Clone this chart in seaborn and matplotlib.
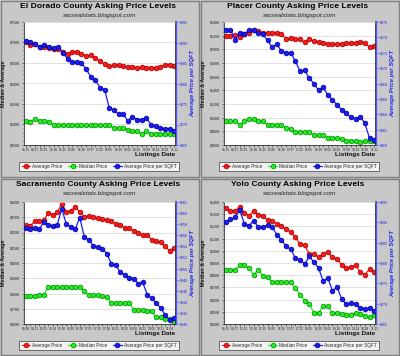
import matplotlib
matplotlib.use("Agg")
import numpy as np
import matplotlib.pyplot as plt
import seaborn as sns
from matplotlib.lines import Line2D
from matplotlib.patches import Rectangle
from matplotlib.ticker import AutoMinorLocator

# ---------------- data ----------------
std_dates = ["04.15", "04.27", "05.12", "05.16", "05.25", "06.06", "06.26", "07.07", "07.22",
             "08.05", "08.19", "09.02", "09.16", "09.30", "10.14", "10.28", "11.11"]
sac_dates = ["04.08", "04.21", "05.05", "05.14", "05.26", "06.09", "06.20", "07.01", "07.15",
             "07.28", "08.11", "08.25", "09.08", "09.22", "10.06", "10.21", "11.04"]

eldorado_avg = [701, 695, 696, 689, 690, 687, 683, 685, 677, 673, 677, 677, 673, 666, 669, 663, 654,
                648, 642, 644, 645, 642, 640, 640, 639, 640, 639, 639, 637, 640, 646, 646, 642]
eldorado_median = [509, 507, 514, 509, 509, 507, 498, 498, 498, 498, 498, 498, 498, 498, 498, 498, 498,
                   498, 498, 492, 492, 492, 487, 483, 483, 478, 483, 478, 478, 478, 478, 478, 478]
eldorado_sqft = [290.4, 290.2, 289.6, 288.9, 289.4, 289.0, 288.6, 288.9, 287.5, 286.0, 285.2, 285.2,
                 285.0, 283.5, 281.7, 280.8, 279.0, 278.5, 274.0, 273.5, 272.5, 272.5, 270.9, 271.9,
                 271.2, 271.2, 271.6, 270.0, 269.6, 269.1, 269.0, 269.0, 268.4]

placer_avg = [619.5, 619.5, 620.5, 618, 623, 624, 628, 627, 624.4, 624, 624, 624.4, 622, 615.6, 616.6,
              615.6, 614.6, 610.7, 614.6, 612, 610.7, 609.8, 608.3, 608.3, 607.3, 608.3, 609.8, 609.8,
              609.8, 610.7, 609.8, 603, 605]
placer_median = [494.6, 494.6, 494.6, 489.8, 494.6, 497.6, 497.6, 494.6, 494.6, 489.8, 489.8, 488.8,
                 488.8, 484.9, 483.9, 479, 479, 479, 479, 474.1, 474.1, 474.1, 470.2, 470.2, 470.2,
                 469.3, 465.4, 465.4, 465.4, 464.4, 465.4, 465.4, 465.4]
placer_sqft = [274.9, 275.0, 273.7, 274.6, 274.5, 274.9, 275.0, 274.6, 274.4, 273.6, 272.7, 273.1,
               272.2, 272.0, 272.0, 270.9, 269.6, 269.7, 268.7, 268.0, 267.1, 267.5, 266.5, 265.9,
               265.2, 264.6, 264.1, 263.6, 263.4, 263.7, 262.8, 260.9, 260.6]

sac_avg = [425.1, 424.5, 427.3, 427.3, 428.0, 432.8, 431.7, 433.2, 438.9, 433.2, 434.3, 436.7, 433.4,
           430.2, 431.0, 430.2, 429.5, 428.9, 428.0, 427.3, 425.6, 425.1, 423.0, 423.0, 420.8, 419.7,
           418.1, 418.1, 415.3, 414.2, 413.6, 410.9, 407.7, 409.8]
sac_median = [378.1, 378.1, 378.1, 379.2, 379.2, 384.3, 384.3, 384.3, 384.3, 384.3, 384.3, 384.3, 384.0,
              381.9, 379.2, 379.2, 379.2, 378.1, 377.5, 373.8, 373.8, 373.8, 373.8, 373.8, 369.4, 369.4,
              369.4, 368.3, 368.3, 364.4, 364.4, 363.5, 363.5, 361.3]
sac_sqft = [257.3, 257.1, 257.3, 257.1, 258.4, 257.8, 257.6, 257.9, 260.8, 258.0, 257.5, 257.1, 259.2,
            255.7, 255.2, 254.1, 253.9, 253.6, 252.7, 250.9, 250.7, 249.3, 248.9, 248.3, 248.2, 247.3,
            247.5, 245.3, 244.6, 243.8, 242.9, 241.6, 240.8, 241.1]

yolo_avg = [535.1, 532.9, 532.9, 535.9, 531.0, 528.8, 532.3, 529.6, 528.3, 525.5, 524.2, 522.2, 520.1,
            517.9, 515.4, 511.3, 505.5, 504.4, 497.4, 497.4, 494.9, 497.4, 499.0, 494.6, 493.6, 488.1,
            485.9, 486.4, 488.1, 482.6, 480.4, 485.1, 482.3]
yolo_median = [484.5, 484.5, 484.5, 488.1, 488.1, 485.9, 480.4, 484.5, 479.6, 478.3, 474.4, 474.4, 474.4,
               474.2, 474.2, 469.5, 464.0, 459.1, 456.6, 449.0, 449.0, 454.5, 454.5, 449.0, 449.0, 448.5,
               447.7, 447.7, 449.0, 448.2, 446.8, 445.7, 447.7]
yolo_sqft = [290.2, 290.7, 291.2, 293.0, 289.6, 289.2, 290.4, 288.8, 288.8, 289.3, 288.8, 287.0, 285.7,
             284.1, 283.4, 281.2, 280.7, 279.8, 281.6, 280.2, 278.8, 275.5, 276.3, 273.2, 274.0, 271.2,
             269.8, 270.2, 269.8, 268.9, 268.8, 268.9, 268.3]

series_names = ["Average Price", "Median Price", "Average Price per SQFT"]

# ---------------- style ----------------
sns.set_theme(style="white")
plt.rcParams["font.family"] = ["Liberation Sans", "DejaVu Sans"]

W, H = 400, 356
fig = plt.figure(figsize=(W / 100, H / 100), dpi=100)
fig.patch.set_facecolor("#c8c8c8")

RED, RED_E = "#ff1a1a", "#990000"
GRN, GRN_E = "#22ee22", "#008800"
BLU, BLU_E = "#1a1aff", "#000088"


def fx(px):
    return px / W


def fy(py):
    return 1 - py / H


def draw_panel(px0, py0, title, labels, avg, med, sqft, lim_l, step_l, lim_r, step_r):
    top = py0 + 22 + (2 if py0 > 0 else 0)
    bot = py0 + 145 + (1 if py0 > 0 else 0)
    left, right = px0 + 24, px0 + 176
    fig.add_artist(Rectangle((fx(px0 + 1), fy(py0 + 177)), fx(198), 176 / H,
                             transform=fig.transFigure, facecolor="none",
                             edgecolor="#808080", lw=1.0))
    ax = fig.add_axes([fx(left), fy(bot), fx(right - left), (bot - top) / H])
    ax.set_facecolor("white")
    n = len(avg)
    x = np.arange(n)
    kw = dict(marker="o", markersize=3.4, markeredgewidth=0.5, linewidth=0.9)
    sns.lineplot(x=x, y=avg, ax=ax, color=RED, markeredgecolor=RED_E, **kw)
    sns.lineplot(x=x, y=med, ax=ax, color=GRN, markeredgecolor=GRN_E, **kw)
    ax.set_xlim(-0.4, n - 1 + 0.4)
    ax.set_ylim(*lim_l)
    yt = np.arange(lim_l[0], lim_l[1] + 0.1, step_l)
    ax.set_yticks(yt)
    ax.set_yticklabels([f"${int(v)}K" for v in yt], fontsize=2.6, color="#222222")
    ax.yaxis.set_minor_locator(AutoMinorLocator(5))
    ax.yaxis.grid(True, color="#dcdcdc", lw=0.6)
    ax.set_axisbelow(True)
    ax.set_xticks(x[::2])
    ax.set_xticklabels(labels, fontsize=2.3, color="#222222")
    ax.set_xticks(x, minor=True)
    ax.tick_params(axis="x", which="both", length=1.5, width=0.4, pad=0.8, direction="out")
    ax.tick_params(axis="y", which="major", length=1.8, width=0.4, pad=0.8, direction="out")
    ax.tick_params(axis="y", which="minor", length=1.0, width=0.3, direction="out")
    ax.tick_params(axis="y", which="both", left=True)
    ax.tick_params(axis="x", which="both", bottom=True)
    for s in ["left", "bottom"]:
        ax.spines[s].set_color("#333333")
        ax.spines[s].set_linewidth(0.6)
    ax.spines["top"].set_color("#dddddd")
    ax.spines["top"].set_linewidth(0.5)
    ax.set_xlabel("")
    ax.set_ylabel("")

    ax2 = ax.twinx()
    sns.lineplot(x=x, y=sqft, ax=ax2, color=BLU, markeredgecolor=BLU_E, **kw)
    ax2.set_ylim(*lim_r)
    yr = np.arange(lim_r[0], lim_r[1] + 0.01, step_r)
    ax2.set_yticks(yr)
    ax2.set_yticklabels([f"${int(v)}" for v in yr], fontsize=2.6, color="#2222ee")
    ax2.yaxis.set_minor_locator(AutoMinorLocator(5))
    ax2.tick_params(axis="y", which="major", length=1.8, width=0.4, pad=0.8,
                    color="#4444ff", right=True)
    ax2.tick_params(axis="y", which="minor", length=1.0, width=0.3, color="#4444ff", right=True)
    ax2.spines["right"].set_color("#5555ff")
    ax2.spines["right"].set_linewidth(0.9)
    for s in ["left", "top", "bottom"]:
        ax2.spines[s].set_visible(False)
    ax2.set_ylabel("")
    ax2.set_xlabel("")

    # texts
    fig.text(fx(px0 + 98), fy(py0 + 6.5), title, ha="center", va="center",
             fontsize=6.1, fontweight="bold", color="black")
    fig.text(fx(px0 + 100), fy(py0 + 15.5), "sacrealstats.blogspot.com", ha="center",
             va="center", fontsize=4.6, style="italic", color="#222222")
    fig.text(fx(px0 + 3.5), fy((top + bot) / 2), "Median & Average", rotation=90,
             ha="center", va="center", fontsize=3.9, fontweight="bold", color="#111111")
    fig.text(fx(px0 + 192.5), fy((top + bot) / 2), "Average Price per SQFT", rotation=90,
             ha="center", va="center", fontsize=4.2, fontweight="bold", style="italic",
             color="#2222ee")
    fig.text(fx(px0 + 175), fy(py0 + 154.5 + (1 if py0 > 0 else 0)), "Listings Date",
             ha="right", va="center", fontsize=4.6, fontweight="bold", color="#111111")

    handles = [
        Line2D([], [], color=RED, marker="o", markersize=3.4, markeredgecolor=RED_E,
               markeredgewidth=0.5, lw=0.9),
        Line2D([], [], color=GRN, marker="o", markersize=3.4, markeredgecolor=GRN_E,
               markeredgewidth=0.5, lw=0.9),
        Line2D([], [], color=BLU, marker="o", markersize=3.4, markeredgecolor=BLU_E,
               markeredgewidth=0.5, lw=0.9),
    ]
    leg = fig.legend(handles, series_names, loc="center",
                     bbox_to_anchor=(fx(px0 + 99), fy(py0 + 166.5 + (1 if py0 > 0 else 0))),
                     ncol=3, fontsize=3.4, frameon=True, fancybox=False, handlelength=1.8,
                     handletextpad=0.4, columnspacing=1.3, borderpad=0.5, borderaxespad=0)
    leg.get_frame().set_facecolor("white")
    leg.get_frame().set_edgecolor("#333333")
    leg.get_frame().set_linewidth(0.6)


draw_panel(0, 0, "El Dorado County Asking Price Levels", std_dates,
           eldorado_avg, eldorado_median, eldorado_sqft, (450, 750), 50, (265, 295), 5)
draw_panel(200, 0, "Placer County Asking Price Levels", std_dates,
           placer_avg, placer_median, placer_sqft, (460, 640), 20, (260, 276), 2)
draw_panel(0, 178, "Sacramento County Asking Price Levels", sac_dates,
           sac_avg, sac_median, sac_sqft, (360, 440), 10, (240, 262), 2)
draw_panel(200, 178, "Yolo County Asking Price Levels", std_dates,
           yolo_avg, yolo_median, yolo_sqft, (440, 540), 10, (265, 295), 5)

fig.savefig("out.png", dpi=100, facecolor=fig.get_facecolor())
